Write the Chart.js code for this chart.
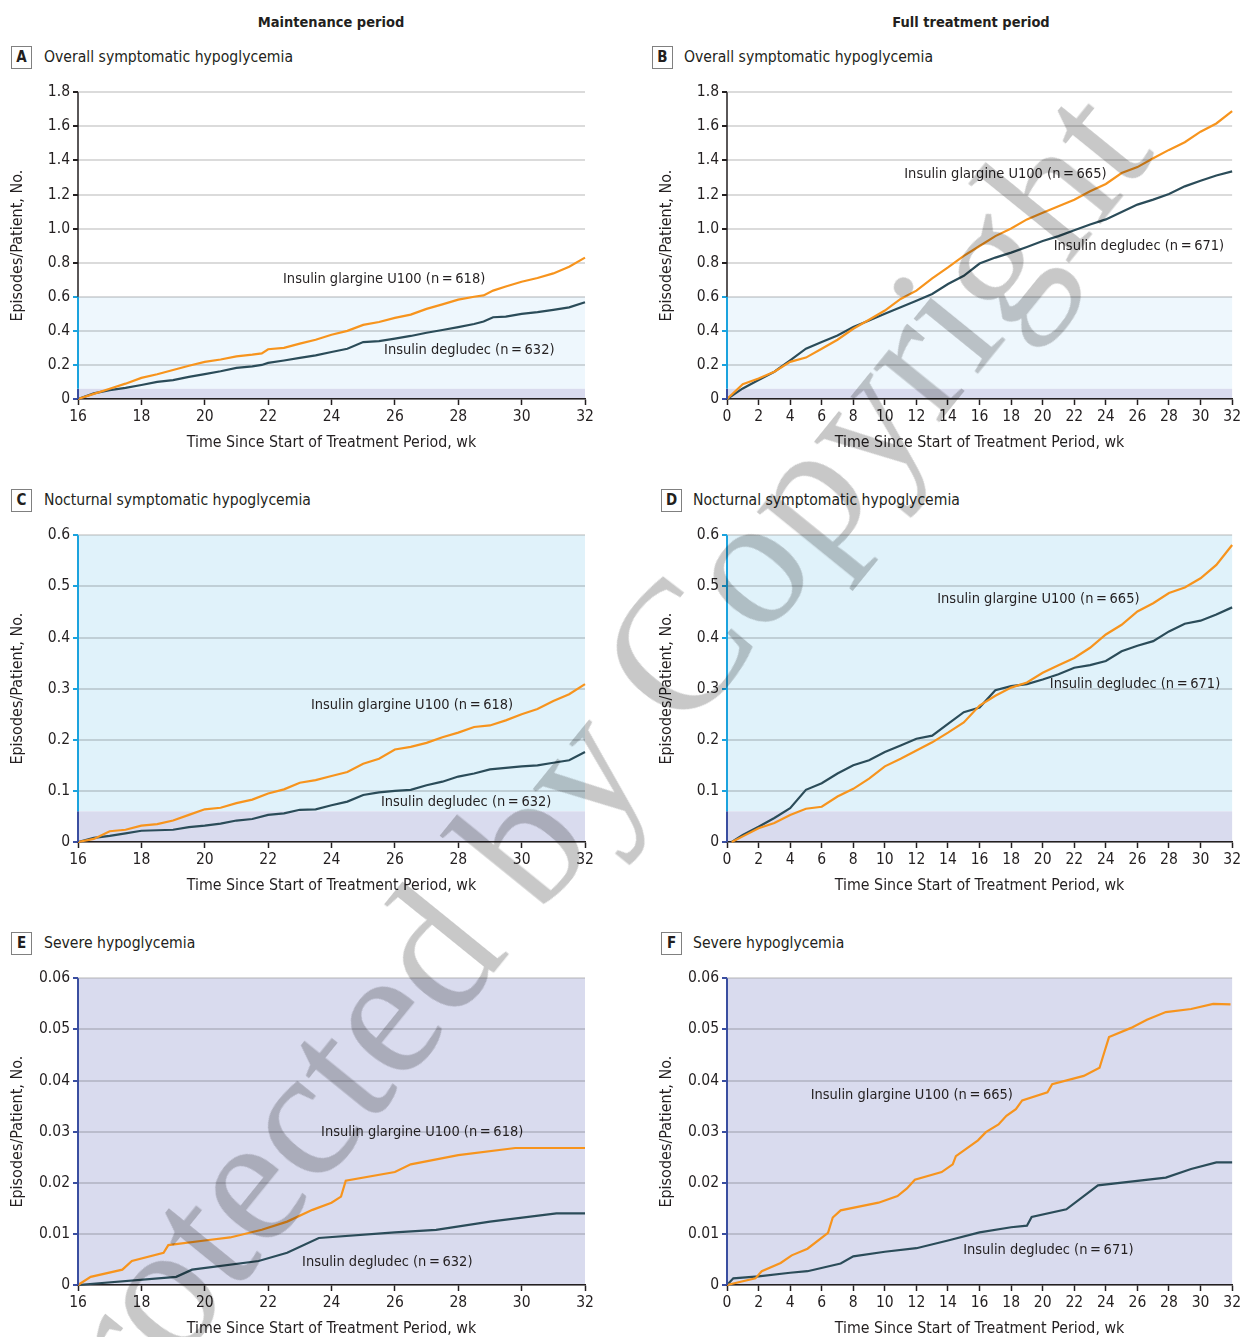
<!DOCTYPE html>
<html>
<head>
<meta charset="utf-8">
<script src="https://cdn.jsdelivr.net/npm/chart.js@4.4.0/dist/chart.umd.min.js"></script>
<style>
  body { margin: 0; width: 1244px; height: 1337px; overflow: hidden; background: #fff; position: relative;
         font-family: "Liberation Sans Narrow", "DejaVu Sans Condensed", "Roboto", sans-serif; color: #231f20; }
  .hdr { position: absolute; top: 12px; font-weight: bold; font-size: 14.5px; line-height: 20px; transform: translateX(-50%); white-space: nowrap; }
  .box { position: absolute; width: 19px; height: 21px; border: 1px solid #808080; font-weight: bold; font-size: 15px;
         line-height: 21px; text-align: center; }
  .ttl { position: absolute; font-size: 15.6px; line-height: 22px; white-space: nowrap; }
  canvas { position: absolute; }
  .wm { position: absolute; left: 565px; top: 785px; transform: translate(-50%, -50%) rotate(-51deg);
        font-family: "Liberation Serif", "DejaVu Serif", serif; font-size: 185px; line-height: 1; white-space: nowrap;
        color: rgb(200, 200, 200); mix-blend-mode: multiply; pointer-events: none; }
</style>
</head>
<body>
<div class="hdr" style="left:331px">Maintenance period</div>
<div class="hdr" style="left:971px">Full treatment period</div>

<div class="box" style="left:11px;top:46px">A</div><div class="ttl" style="left:44px;top:46px">Overall symptomatic hypoglycemia</div>
<div class="box" style="left:652px;top:46px">B</div><div class="ttl" style="left:684px;top:46px">Overall symptomatic hypoglycemia</div>
<div class="box" style="left:11px;top:489px">C</div><div class="ttl" style="left:44px;top:489px">Nocturnal symptomatic hypoglycemia</div>
<div class="box" style="left:661px;top:489px">D</div><div class="ttl" style="left:693px;top:489px">Nocturnal symptomatic hypoglycemia</div>
<div class="box" style="left:11px;top:932px">E</div><div class="ttl" style="left:44px;top:932px">Severe hypoglycemia</div>
<div class="box" style="left:661px;top:932px">F</div><div class="ttl" style="left:693px;top:932px">Severe hypoglycemia</div>

<canvas id="chartA" width="620" height="380" style="left:0;top:80px"></canvas>
<canvas id="chartB" width="595" height="380" style="left:649px;top:80px"></canvas>
<canvas id="chartC" width="620" height="380" style="left:0;top:523px"></canvas>
<canvas id="chartD" width="595" height="380" style="left:649px;top:523px"></canvas>
<canvas id="chartE" width="620" height="380" style="left:0;top:966px"></canvas>
<canvas id="chartF" width="595" height="380" style="left:649px;top:966px"></canvas>

<div class="wm">Protected by Copyright</div>

<script>
// Datos (semanas y episodios/paciente)
var weeksA = [16, 16.5, 17, 17.5, 18, 18.5, 19, 19.5, 20, 20.5, 21, 21.5, 21.8, 22, 22.5, 23, 23.5, 24, 24.5, 25, 25.5, 26, 26.5, 27, 27.5, 28, 28.5, 28.8, 29.1, 29.5, 30, 30.5, 31, 31.5, 32];
var glargineA = [0, 0.03, 0.06, 0.09, 0.124, 0.145, 0.17, 0.195, 0.218, 0.232, 0.25, 0.26, 0.268, 0.292, 0.3, 0.325, 0.348, 0.377, 0.4, 0.435, 0.452, 0.476, 0.495, 0.529, 0.555, 0.583, 0.6, 0.608, 0.636, 0.66, 0.688, 0.71, 0.737, 0.776, 0.83];
var degludecA = [0, 0.033, 0.052, 0.065, 0.082, 0.1, 0.111, 0.13, 0.146, 0.163, 0.183, 0.192, 0.2, 0.212, 0.226, 0.241, 0.256, 0.276, 0.295, 0.334, 0.34, 0.354, 0.37, 0.389, 0.405, 0.422, 0.44, 0.455, 0.48, 0.484, 0.5, 0.51, 0.523, 0.538, 0.568];

var weeksB = [0, 1, 2, 3, 4, 5, 6, 7, 8, 9, 10, 11, 12, 13, 14, 15, 16, 17, 18, 19, 20, 21, 22, 23, 24, 25, 26, 27, 28, 29, 30, 31, 32];
var glargineB = [0, 0.087, 0.12, 0.16, 0.218, 0.243, 0.295, 0.348, 0.412, 0.465, 0.519, 0.587, 0.636, 0.708, 0.772, 0.84, 0.898, 0.956, 1.001, 1.054, 1.093, 1.131, 1.17, 1.219, 1.262, 1.326, 1.361, 1.413, 1.462, 1.507, 1.569, 1.617, 1.689];
var degludecB = [0, 0.062, 0.111, 0.16, 0.227, 0.295, 0.334, 0.373, 0.422, 0.461, 0.5, 0.538, 0.577, 0.616, 0.675, 0.723, 0.795, 0.83, 0.859, 0.892, 0.927, 0.956, 0.99, 1.024, 1.054, 1.098, 1.141, 1.17, 1.203, 1.248, 1.281, 1.312, 1.336];

var weeksC = [16, 16.5, 17, 17.5, 18, 18.5, 19, 19.5, 20, 20.5, 21, 21.5, 22, 22.5, 23, 23.5, 24, 24.5, 25, 25.5, 26, 26.5, 27, 27.5, 28, 28.5, 29, 29.5, 30, 30.5, 31, 31.5, 32];
var glargineC = [0, 0.006, 0.021, 0.024, 0.032, 0.035, 0.042, 0.053, 0.064, 0.067, 0.076, 0.083, 0.095, 0.103, 0.116, 0.121, 0.129, 0.137, 0.153, 0.163, 0.181, 0.186, 0.194, 0.205, 0.214, 0.225, 0.228, 0.238, 0.25, 0.26, 0.276, 0.289, 0.309];
var degludecC = [0, 0.008, 0.012, 0.017, 0.022, 0.023, 0.024, 0.029, 0.032, 0.036, 0.042, 0.045, 0.053, 0.056, 0.063, 0.064, 0.072, 0.079, 0.092, 0.097, 0.1, 0.102, 0.111, 0.118, 0.128, 0.134, 0.142, 0.145, 0.148, 0.15, 0.155, 0.16, 0.176];

var weeksD = [0.3, 1, 2, 3, 4, 5, 6, 7, 8, 9, 10, 11, 12, 13, 14, 15, 16, 17, 18, 19, 20, 21, 22, 23, 24, 25, 26, 27, 28, 29, 30, 31, 32];
var glargineD = [0, 0.011, 0.027, 0.037, 0.053, 0.065, 0.069, 0.089, 0.104, 0.124, 0.148, 0.163, 0.179, 0.195, 0.214, 0.234, 0.267, 0.286, 0.302, 0.312, 0.331, 0.346, 0.36, 0.38, 0.406, 0.425, 0.451, 0.467, 0.487, 0.498, 0.516, 0.542, 0.581];
var degludecD = [0, 0.014, 0.03, 0.047, 0.066, 0.102, 0.115, 0.134, 0.15, 0.16, 0.176, 0.189, 0.202, 0.208, 0.231, 0.254, 0.263, 0.297, 0.305, 0.309, 0.318, 0.328, 0.341, 0.346, 0.354, 0.373, 0.384, 0.393, 0.412, 0.427, 0.433, 0.445, 0.459];

var weeksGlargineE = [16, 16.4, 17.4, 17.7, 18.7, 18.85, 20, 20.8, 21.8, 22.6, 23.4, 24, 24.3, 24.45, 26, 26.5, 28, 29.8, 32];
var glargineE = [0, 0.0016, 0.003, 0.0047, 0.0063, 0.0078, 0.0087, 0.0093, 0.0108, 0.0124, 0.0147, 0.0161, 0.0173, 0.0204, 0.0221, 0.0236, 0.0254, 0.0268, 0.0268];
var weeksDegludecE = [16, 19.1, 19.6, 21.7, 22.6, 23.6, 26, 27.3, 29, 31.1, 32];
var degludecE = [0, 0.0016, 0.003, 0.0047, 0.0063, 0.0092, 0.0103, 0.0108, 0.0124, 0.014, 0.014];

var weeksGlargineF = [0, 1.8, 2.2, 3.4, 4.1, 5.1, 6.4, 6.7, 7.2, 9.6, 10.8, 11.4, 11.9, 13.6, 14.3, 14.5, 15.9, 16.4, 17.2, 17.7, 18.3, 18.7, 20.3, 20.6, 22.6, 23.6, 23.8, 24.2, 25.6, 26.6, 27.8, 29.4, 30.8, 31.9];
var glargineF = [0, 0.0013, 0.0027, 0.0043, 0.0058, 0.0071, 0.0102, 0.0132, 0.0146, 0.0161, 0.0174, 0.0189, 0.0206, 0.0221, 0.0236, 0.0252, 0.0283, 0.0299, 0.0314, 0.0331, 0.0344, 0.0361, 0.0377, 0.0393, 0.0409, 0.0425, 0.0445, 0.0485, 0.0503, 0.0519, 0.0534, 0.054, 0.055, 0.0549];
var weeksDegludecF = [0, 0.4, 2, 4, 5.1, 7.2, 8, 10, 12, 14, 16, 18, 19, 19.3, 21.5, 23.5, 27.8, 29.4, 31, 32];
var degludecF = [0, 0.0013, 0.0017, 0.0024, 0.0027, 0.0042, 0.0056, 0.0065, 0.0072, 0.0087, 0.0103, 0.0113, 0.0116, 0.0133, 0.0148, 0.0195, 0.021, 0.0227, 0.024, 0.024];

// Marcas de los ejes
var ticksOverall = [0, 0.2, 0.4, 0.6, 0.8, 1.0, 1.2, 1.4, 1.6, 1.8];
var ticksNocturnal = [0, 0.1, 0.2, 0.3, 0.4, 0.5, 0.6];
var ticksSevere = [0, 0.01, 0.02, 0.03, 0.04, 0.05, 0.06];
var ticksMaintenance = [16, 18, 20, 22, 24, 26, 28, 30, 32];
var ticksFull = [0, 2, 4, 6, 8, 10, 12, 14, 16, 18, 20, 22, 24, 26, 28, 30, 32];

var FONT = '"Liberation Sans Narrow", "DejaVu Sans Condensed", sans-serif';
var TEXT = '#231f20';
var ORANGE = '#f7941d';
var TEAL = '#2b4c59';
var LOW = 0.06, MID = 0.6;   // limites de las bandas de fondo

// Fondo en bandas (0-0.06 lila, 0.06-0.6 azul)
var bandsPlugin = {
    id: 'bands',
    beforeDraw: function(chart, args, opts) {
        var ctx = chart.ctx, a = chart.chartArea, y = chart.scales.y;
        ctx.save();
        var yMid = y.getPixelForValue(Math.min(MID, y.max));
        var yLow = y.getPixelForValue(Math.min(LOW, y.max));
        ctx.fillStyle = opts.blue;
        ctx.fillRect(a.left, yMid, a.right - a.left, yLow - yMid);
        ctx.fillStyle = '#d9dbee';
        ctx.fillRect(a.left, yLow, a.right - a.left, a.bottom - yLow);
        ctx.restore();
    },
    afterDraw: function(chart) {
        // eje Y coloreado por tramos
        var ctx = chart.ctx, a = chart.chartArea, y = chart.scales.y;
        var x0 = a.left;
        var segs = [[0, LOW, '#3a4ea0', 2], [LOW, MID, '#1ba3de', 2], [MID, Infinity, TEXT, 1.5]];
        ctx.save();
        segs.forEach(function(s) {
            var lo = Math.max(s[0], y.min), hi = Math.min(s[1], y.max);
            if (hi <= lo) return;
            ctx.strokeStyle = s[2];
            ctx.lineWidth = s[3];
            ctx.beginPath();
            ctx.moveTo(x0, y.getPixelForValue(lo));
            ctx.lineTo(x0, y.getPixelForValue(hi));
            ctx.stroke();
        });
        ctx.restore();
    }
};

// Etiquetas de las series dentro del grafico
var labelsPlugin = {
    id: 'seriesLabels',
    afterDatasetsDraw: function(chart, args, opts) {
        var ctx = chart.ctx, x = chart.scales.x, y = chart.scales.y;
        ctx.save();
        ctx.font = '14.5px ' + FONT;
        ctx.fillStyle = TEXT;
        ctx.textBaseline = 'middle';
        ctx.textAlign = 'left';
        (opts.items || []).forEach(function(it) {
            ctx.fillText(it.text, x.getPixelForValue(it.x), y.getPixelForValue(it.y));
        });
        ctx.restore();
    }
};

function points(xs, ys) {
    return xs.map(function(x, i) { return { x: x, y: ys[i] }; });
}

function tickColor(ctx) {
    var v = ctx.tick ? ctx.tick.value : 0;
    if (v <= LOW + 1e-9) return '#3a4ea0';
    if (v <= MID + 1e-9) return '#1ba3de';
    return TEXT;
}

function makeChart(id, cfg) {
    var ctx = document.getElementById(id).getContext('2d');
    return new Chart(ctx, {
        type: 'line',
        data: {
            datasets: [{
                label: 'Insulin glargine U100',
                data: points(cfg.gx, cfg.gy),
                borderColor: ORANGE, borderWidth: 2.2, pointRadius: 0, tension: 0, clip: 4
            }, {
                label: 'Insulin degludec',
                data: points(cfg.dx, cfg.dy),
                borderColor: TEAL, borderWidth: 2.2, pointRadius: 0, tension: 0, clip: 4
            }]
        },
        options: {
            responsive: false,
            animation: false,
            layout: { padding: { left: 0, top: 11, right: cfg.right, bottom: 0 } },
            plugins: {
                legend: { display: false },
                tooltip: { enabled: false },
                bands: { blue: cfg.blue },
                seriesLabels: { items: cfg.labels }
            },
            scales: {
                x: {
                    type: 'linear', min: cfg.xTicks[0], max: cfg.xTicks[cfg.xTicks.length - 1],
                    afterBuildTicks: function(axis) { axis.ticks = cfg.xTicks.map(function(v) { return { value: v }; }); },
                    afterFit: function(axis) { axis.height = 61; },
                    grid: { drawOnChartArea: false, drawTicks: true, tickLength: 6, tickColor: TEXT, tickWidth: 1.5 },
                    border: { display: true, color: TEXT, width: 1.5 },
                    ticks: { color: TEXT, font: { family: FONT, size: 15.5 }, padding: 3, maxRotation: 0, autoSkip: false },
                    title: { display: true, text: 'Time Since Start of Treatment Period, wk', color: TEXT,
                             font: { family: FONT, size: 15.8 }, padding: { top: 4, bottom: 8 } }
                },
                y: {
                    min: 0, max: cfg.yTicks[cfg.yTicks.length - 1],
                    afterBuildTicks: function(axis) { axis.ticks = cfg.yTicks.map(function(v) { return { value: v }; }); },
                    afterFit: function(axis) { axis.width = 78; },
                    grid: { color: 'rgba(0,0,0,0.14)', lineWidth: 2, drawTicks: true, tickLength: 5,
                            tickColor: tickColor, tickWidth: 2 },
                    border: { display: false },
                    ticks: {
                        color: TEXT, font: { family: FONT, size: 15.5 }, padding: 3, autoSkip: false,
                        callback: function(v) { return v === 0 ? '0' : v.toFixed(cfg.dec); }
                    },
                    title: { display: true, text: 'Episodes/Patient, No.', color: TEXT,
                             font: { family: FONT, size: 16 }, padding: { top: 8, bottom: 0 } }
                }
            }
        },
        plugins: [bandsPlugin, labelsPlugin]
    });
}

makeChart('chartA', {
    gx: weeksA, gy: glargineA, dx: weeksA, dy: degludecA,
    xTicks: ticksMaintenance, yTicks: ticksOverall, dec: 1, right: 35, blue: '#eef7fd',
    labels: [{ text: 'Insulin glargine U100 (n\u2009=\u2009618)', x: 22.47, y: 0.701 },
             { text: 'Insulin degludec (n\u2009=\u2009632)', x: 25.66, y: 0.286 }]
});
makeChart('chartB', {
    gx: weeksB, gy: glargineB, dx: weeksB, dy: degludecB,
    xTicks: ticksFull, yTicks: ticksOverall, dec: 1, right: 10, blue: '#eef7fd',
    labels: [{ text: 'Insulin glargine U100 (n\u2009=\u2009665)', x: 11.23, y: 1.321 },
             { text: 'Insulin degludec (n\u2009=\u2009671)', x: 20.7, y: 0.894 }]
});
makeChart('chartC', {
    gx: weeksC, gy: glargineC, dx: weeksC, dy: degludecC,
    xTicks: ticksMaintenance, yTicks: ticksNocturnal, dec: 1, right: 35, blue: '#e0f2fa',
    labels: [{ text: 'Insulin glargine U100 (n\u2009=\u2009618)', x: 23.35, y: 0.267 },
             { text: 'Insulin degludec (n\u2009=\u2009632)', x: 25.56, y: 0.078 }]
});
makeChart('chartD', {
    gx: weeksD, gy: glargineD, dx: weeksD, dy: degludecD,
    xTicks: ticksFull, yTicks: ticksNocturnal, dec: 1, right: 10, blue: '#e0f2fa',
    labels: [{ text: 'Insulin glargine U100 (n\u2009=\u2009665)', x: 13.32, y: 0.475 },
             { text: 'Insulin degludec (n\u2009=\u2009671)', x: 20.45, y: 0.308 }]
});
makeChart('chartE', {
    gx: weeksGlargineE, gy: glargineE, dx: weeksDegludecE, dy: degludecE,
    xTicks: ticksMaintenance, yTicks: ticksSevere, dec: 2, right: 35, blue: '#e0f2fa',
    labels: [{ text: 'Insulin glargine U100 (n\u2009=\u2009618)', x: 23.67, y: 0.0298 },
             { text: 'Insulin degludec (n\u2009=\u2009632)', x: 23.07, y: 0.00448 }]
});
makeChart('chartF', {
    gx: weeksGlargineF, gy: glargineF, dx: weeksDegludecF, dy: degludecF,
    xTicks: ticksFull, yTicks: ticksSevere, dec: 2, right: 10, blue: '#e0f2fa',
    labels: [{ text: 'Insulin glargine U100 (n\u2009=\u2009665)', x: 5.3, y: 0.0372 },
             { text: 'Insulin degludec (n\u2009=\u2009671)', x: 14.96, y: 0.0068 }]
});
</script>
</body>
</html>
